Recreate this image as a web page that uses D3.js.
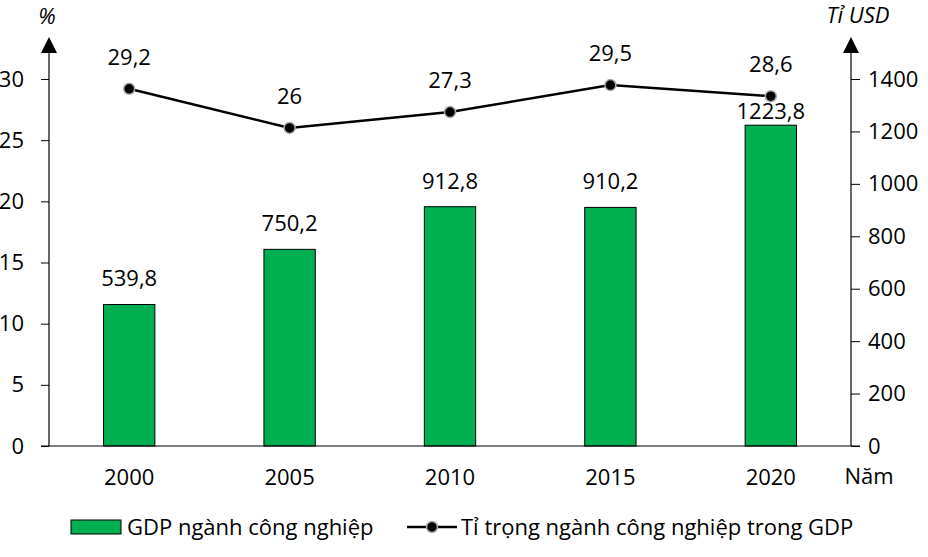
<!DOCTYPE html>
<html><head><meta charset="utf-8">
<script src="https://cdn.jsdelivr.net/npm/d3@7"></script>
<style>body{margin:0;background:#fff}svg{display:block}text{font-family:"Open Sans","Noto Sans",sans-serif;fill:#000}</style>
</head><body><svg id="c" width="928" height="557"></svg>
<script>
const years = ["2000","2005","2010","2015","2020"];
const gdp = [539.8, 750.2, 912.8, 910.2, 1223.8];
const share = [29.2, 26, 27.3, 29.5, 28.6];
const gdpLabels = ["539,8","750,2","912,8","910,2","1223,8"];
const shareLabels = ["29,2","26","27,3","29,5","28,6"];
const leftTicks = [0,5,10,15,20,25,30];
const rightTicks = [0,200,400,600,800,1000,1200,1400];

const svg = d3.select("#c");
const L = 49, R = 851, B = 446, T = 79;
const x = d3.scaleBand().domain(years).range([L, R]).paddingInner(0.68).paddingOuter(0.34);
const yL = d3.scaleLinear().domain([0,30]).range([B, T]);
const yR = d3.scaleLinear().domain([0,1400]).range([B, T]);
const fs = 22;
const FONT = '"Open Sans","Noto Sans",sans-serif';

// bars
svg.selectAll("rect.bar").data(gdp).join("rect")
  .attr("x",(d,i)=>x(years[i])).attr("width",x.bandwidth())
  .attr("y",d=>yR(d)).attr("height",d=>B-yR(d))
  .attr("fill","#00B050").attr("stroke","#000").attr("stroke-width",1);

// axes
const axL = svg.append("g").attr("transform",`translate(${L},0)`).call(d3.axisLeft(yL).tickValues(leftTicks).tickSize(8).tickPadding(17).tickFormat(d3.format("d")));
const axR = svg.append("g").attr("transform",`translate(${R},0)`).call(d3.axisRight(yR).tickValues(rightTicks).tickSize(9).tickPadding(8).tickFormat(d3.format("d")));
[axL, axR].forEach(a=>{
  a.select(".domain").remove();
  a.attr("font-size",null).attr("font-family",null);
  a.selectAll("text").style("font-size",fs+"px").style("font-family",FONT);
  a.selectAll("line").attr("stroke","#000");
});
function arrowAxis(xx){
  svg.append("line").attr("x1",xx).attr("x2",xx).attr("y1",B).attr("y2",48).attr("stroke","#000").attr("stroke-width",1.2);
  svg.append("path").attr("d",`M${xx-8},${53} L${xx+8},${53} L${xx},${37} Z`).attr("fill","#000");
}
arrowAxis(L); arrowAxis(R);
// bottom axis
svg.append("line").attr("x1",41).attr("x2",860).attr("y1",B).attr("y2",B).attr("stroke","#000").attr("stroke-width",1.2);
svg.append("g").selectAll("text").data(years).join("text")
  .attr("x",d=>x(d)+x.bandwidth()/2).attr("y",485).attr("text-anchor","middle").style("font-size",fs+"px").text(d=>d);
svg.append("text").attr("x",869).attr("y",484).attr("text-anchor","middle").style("font-size",fs+"px").text("Năm");
svg.append("text").attr("x",47).attr("y",24).attr("text-anchor","middle").style("font-size",fs+"px").style("font-style","italic").text("%");
svg.append("text").attr("x",858).attr("y",23).attr("text-anchor","middle").style("font-size",fs+"px").style("font-style","italic").text("Tỉ USD");

// line geometry
const cx = (d,i)=>x(years[i])+x.bandwidth()/2;

// bar labels (pulled closer when the label would hit a line marker)
svg.selectAll("text.bl").data(gdp).join("text").attr("class","bl")
  .attr("x",(d,i)=>cx(d,i)).attr("y",(d,i)=>{
    const base = yR(d)-18;
    const markerY = yL(share[i]);
    return (base-16 < markerY+6) ? yR(d)-6 : base;
  }).attr("text-anchor","middle")
  .style("font-size",fs+"px").text((d,i)=>gdpLabels[i]);

svg.append("path").datum(share).attr("d",d3.line().x(cx).y(d=>yL(d)))
  .attr("fill","none").attr("stroke","#000").attr("stroke-width",2.5);
svg.selectAll("circle.pt").data(share).join("circle").attr("class","pt")
  .attr("cx",cx).attr("cy",d=>yL(d)).attr("r",5.5).attr("fill","#000").attr("stroke","#aaa").attr("stroke-width",1.5);
svg.selectAll("text.ll").data(share).join("text").attr("class","ll")
  .attr("x",cx).attr("y",d=>yL(d)-24).attr("text-anchor","middle")
  .style("font-size",fs+"px").text((d,i)=>shareLabels[i]);

// legend
svg.append("rect").attr("x",71).attr("y",520).attr("width",50).attr("height",14).attr("fill","#00B050").attr("stroke","#000");
svg.append("text").attr("x",127).attr("y",535).style("font-size",fs+"px").text("GDP ngành công nghiệp");
svg.append("line").attr("x1",407).attr("x2",457).attr("y1",527).attr("y2",527).attr("stroke","#000").attr("stroke-width",2.5);
svg.append("circle").attr("cx",432).attr("cy",527).attr("r",5.5).attr("fill","#000").attr("stroke","#aaa").attr("stroke-width",1.5);
svg.append("text").attr("x",461).attr("y",535).style("font-size",fs+"px").text("Tỉ trọng ngành công nghiệp trong GDP");
</script></body></html>
